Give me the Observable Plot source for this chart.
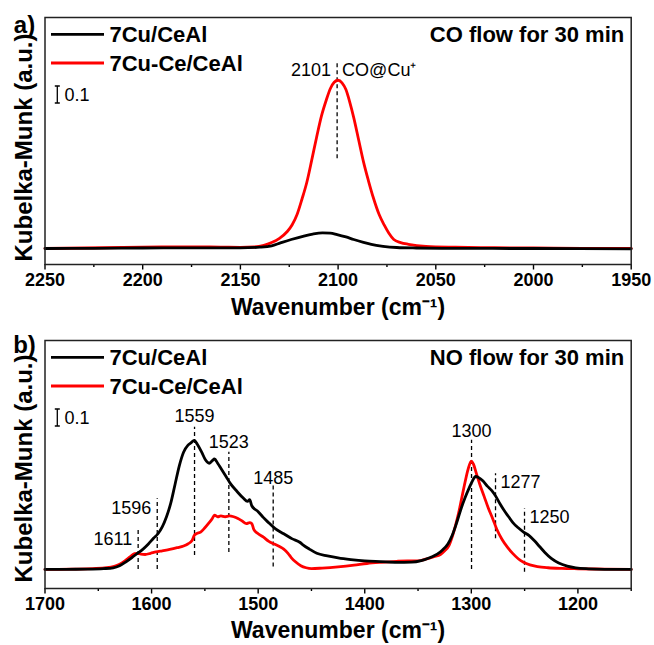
<!DOCTYPE html>
<html><head><meta charset="utf-8">
<script src="https://cdn.jsdelivr.net/npm/d3@7"></script>
<script src="https://cdn.jsdelivr.net/npm/@observablehq/plot@0.6"></script>
<style>body{margin:0;background:#fff} #chart svg{display:block}</style>
</head><body><div id="chart"></div>
<script>
const FONT = "'Liberation Sans', Arial, Helvetica, sans-serif";
const seriesNames = ["7Cu/CeAl", "7Cu-Ce/CeAl"];
const seriesColors = ["#000000", "#ff0000"];

// ---- Panel a: CO flow ----
const aHeader = "CO flow for 30 min";
const aMajorTicks = [2250, 2200, 2150, 2100, 2050, 2000, 1950];
const aMinorTicks = [2225, 2175, 2125, 2075, 2025, 1975];
const aBlackW = [2250,2225,2200,2175,2150,2140,2134,2129.5,2124,2118,2113,2108,2104,2100.5,2096,2092,2087,2083,2077,2070,2060,2040,2000,1950];
const aBlackV = [0,0.001,0.003,0.004,0.004,0.008,0.016,0.033,0.053,0.072,0.085,0.092,0.091,0.082,0.068,0.053,0.036,0.024,0.013,0.006,0.003,0.001,0,-0.002];
const aRedW = [2250,2230,2210,2190,2175,2160,2150,2143,2138,2134,2130,2126,2123.5,2121,2118.5,2116,2113.5,2111,2108.5,2106,2104,2102,2100,2098,2096,2094,2092,2089.5,2087,2084.5,2082,2079,2076.5,2074,2071.5,2068,2064,2055,2040,2020,2000,1975,1950];
const aRedV = [0,0.003,0.006,0.009,0.01,0.008,0.007,0.009,0.018,0.035,0.06,0.1,0.14,0.2,0.29,0.39,0.52,0.655,0.78,0.875,0.94,0.978,0.99,0.975,0.935,0.86,0.77,0.64,0.51,0.4,0.3,0.2,0.14,0.09,0.053,0.035,0.025,0.013,0.008,0.005,0.003,0.001,0];
const aRulePos = [2100.5];
const aRuleY1 = [0.528];
const aRuleY2 = [1.096];
const aLabelText = ["2101", "CO@Cu\u207A"];
const aLabelPos = [2100.5, 2100.5];
const aLabelY = [1.047, 1.047];
const aLabelSide = ["left", "right"];

// ---- Panel b: NO flow ----
const bHeader = "NO flow for 30 min";
const bMajorTicks = [1700, 1600, 1500, 1400, 1300, 1200];
const bMinorTicks = [1650, 1550, 1450, 1350, 1250, 1150];
const bBlackW = [1700,1680,1660,1645,1636,1630,1624,1618,1613,1608,1603,1598,1594,1590,1586,1582,1578,1574,1570,1566,1563,1560,1557,1553,1549.5,1546,1543,1541,1538,1535,1530,1526,1520,1514,1510,1508,1506,1500,1495,1491,1484,1476,1468,1461,1458,1452,1445,1435,1425,1413,1400,1385,1370,1356,1347,1338,1332,1327,1322,1318,1314,1310,1306,1302,1299,1296,1293,1289,1285,1281,1277,1273,1269,1265,1261,1256,1251,1246,1241,1236,1231,1225,1218,1210,1202,1190,1175,1150];
const bBlackV = [0,0.001,0.002,0.005,0.01,0.022,0.045,0.072,0.096,0.12,0.15,0.185,0.21,0.25,0.31,0.39,0.5,0.61,0.69,0.73,0.745,0.76,0.735,0.69,0.645,0.625,0.64,0.65,0.625,0.595,0.545,0.505,0.46,0.42,0.4,0.41,0.375,0.34,0.305,0.28,0.24,0.21,0.18,0.16,0.145,0.12,0.095,0.08,0.068,0.058,0.05,0.046,0.042,0.043,0.052,0.072,0.09,0.115,0.15,0.2,0.27,0.35,0.42,0.48,0.52,0.547,0.54,0.52,0.49,0.465,0.43,0.385,0.345,0.31,0.275,0.245,0.22,0.2,0.17,0.135,0.1,0.065,0.038,0.02,0.01,0.004,0.001,0];
const bRedW = [1700,1675,1655,1642,1635,1630,1625,1620,1616,1613,1610,1606,1601,1596,1590,1583,1576,1570,1566,1562,1560,1558,1554,1550,1546,1543,1541,1538,1535,1531,1527,1523,1519,1515,1511,1508,1506,1504,1500,1495,1490,1485,1480,1476,1472,1469,1465,1460,1455,1450,1440,1425,1410,1398,1385,1370,1360,1350,1342,1335,1329,1325,1321,1318,1315,1312,1309,1306,1303,1300,1298,1295.5,1292,1288,1284,1280,1276,1271,1266,1261,1256,1251,1245,1238,1228,1215,1200,1175,1150];
const bRedV = [0,0.002,0.005,0.01,0.018,0.03,0.05,0.075,0.093,0.095,0.09,0.088,0.095,0.103,0.11,0.118,0.128,0.138,0.15,0.17,0.2,0.21,0.22,0.245,0.275,0.3,0.32,0.31,0.315,0.31,0.315,0.31,0.3,0.285,0.27,0.275,0.27,0.235,0.21,0.19,0.165,0.15,0.135,0.12,0.095,0.07,0.045,0.022,0.01,0.005,0.008,0.015,0.025,0.035,0.042,0.048,0.05,0.05,0.062,0.075,0.088,0.11,0.14,0.19,0.255,0.33,0.42,0.51,0.59,0.637,0.62,0.57,0.5,0.43,0.36,0.3,0.235,0.175,0.13,0.093,0.063,0.042,0.027,0.017,0.01,0.006,0.004,0.002,0];
const bRulePos = [1612.6, 1594.7, 1559.7, 1527.5, 1485.9, 1299.8, 1277.3, 1250.1];
const bRuleY1 = [0, 0, 0.082, 0.10, 0.014, 0, 0.18, -0.016];
const bRuleY2 = [0.24, 0.416, 0.837, 0.69, 0.494, 0.76, 0.563, 0.357];
const bLabelText = ["1611", "1596", "1559", "1523", "1485", "1300", "1277", "1250"];
const bLabelPos = bRulePos;
const bLabelY = [0.175, 0.36, 0.90, 0.75, 0.534, 0.812, 0.515, 0.307];
const bLabelSide = ["left", "left", "top", "top", "top", "top", "right", "right"];

const zipRows = (W, V) => W.map((w, i) => ({w, v: V[i]}));

function legendMark(index, scales, values, dimensions) {
  const g = d3.create("svg:g").attr("text-anchor", "start");
  const x0 = dimensions.marginLeft, y0 = dimensions.marginTop;
  seriesNames.forEach((name, i) => {
    const y = y0 + 17.3 + i * 28.7;
    g.append("line").attr("x1", x0 + 6.5).attr("x2", x0 + 59.5).attr("y1", y).attr("y2", y)
      .attr("stroke", seriesColors[i]).attr("stroke-width", 2.8);
    g.append("text").attr("x", x0 + 65).attr("y", y).attr("dy", "0.36em")
      .attr("text-anchor", "start")
      .attr("font-size", 22).attr("font-weight", "bold").attr("fill", "#000")
      .attr("font-family", FONT).text(name);
  });
  const len = scales.y(0) - scales.y(0.1);
  const bx = x0 + 12.8, bt = y0 + 69, bb = bt + len;
  g.append("path").attr("d", `M${bx},${bt}V${bb}M${bx-2.5},${bt}H${bx+2.5}M${bx-2.5},${bb}H${bx+2.5}`)
    .attr("stroke", "#000").attr("stroke-width", 1.3).attr("fill", "none");
  g.append("text").attr("x", x0 + 20).attr("y", (bt + bb) / 2).attr("dy", "0.36em")
    .attr("text-anchor", "start")
    .attr("font-size", 18).attr("font-weight", "normal").attr("fill", "#000")
    .attr("font-family", FONT).text("0.1");
  return g.node();
}

function panel(o) {
  const rules = o.rulePos.map((p, i) => ({pos: p, y1: o.ruleY1[i], y2: o.ruleY2[i]}));
  const labels = o.labelText.map((t, i) => ({text: t, pos: o.labelPos[i], y: o.labelY[i], side: o.labelSide[i]}));
  const lab = (side, extra) => Plot.text(labels.filter(d => d.side === side), {
    x: "pos", y: "y", text: "text", fontSize: 18, fontWeight: "normal", fill: "#000",
    lineAnchor: "middle", ...extra
  });
  return Plot.plot({
    width: 654, height: o.height,
    marginLeft: 44.5, marginRight: 23.3, marginTop: o.mt, marginBottom: o.mb,
    x: {domain: o.xDomain, label: null},
    y: {domain: o.yDomain, axis: null},
    style: {fontFamily: FONT, fontSize: "18px", fontWeight: "bold", color: "#000", background: "#fff", overflow: "visible"},
    marks: [
      Plot.axisX({ticks: o.minors, tickSize: 3, tickFormat: () => "", label: null, strokeWidth: 1.4}),
      Plot.axisX({ticks: o.majors, tickSize: 5.5, tickPadding: 3, fontSize: 18, fontWeight: "bold", label: null, strokeWidth: 1.4, tickFormat: d => String(d)}),
      Plot.ruleX(rules, {x: "pos", y1: "y1", y2: "y2", stroke: "#000", strokeWidth: 1.3, strokeDasharray: "4,3"}),
      Plot.line(zipRows(o.redW, o.redV), {x: "w", y: "v", stroke: seriesColors[1], strokeWidth: 2.8, curve: "monotone-x"}),
      Plot.line(zipRows(o.blackW, o.blackV), {x: "w", y: "v", stroke: seriesColors[0], strokeWidth: 2.8, curve: "monotone-x"}),
      lab("top", {textAnchor: "middle"}),
      lab("left", {textAnchor: "end", dx: -6}),
      lab("right", {textAnchor: "start", dx: 5}),
      Plot.frame({stroke: "#222", strokeWidth: 1.5}),
      legendMark,
      Plot.text([o.header], {text: d => d, frameAnchor: "top-right", dx: -7, dy: o.headerDy, textAnchor: "end", lineAnchor: "middle", fontSize: 22, fontWeight: "bold", fill: "#000"}),
      Plot.text([o.letter], {text: d => d, frameAnchor: "top-left", dx: -20.5, dy: o.letterDy, textAnchor: "middle", lineAnchor: "middle", fontSize: 24, fontWeight: "bold", fill: "#000"}),
      Plot.text(["Kubelka-Munk (a.u.)"], {text: d => d, frameAnchor: "left", dx: -20.5, dy: o.yTitleDy, rotate: -90, textAnchor: "middle", lineAnchor: "middle", fontSize: 24, fontWeight: "bold", fill: "#000"}),
      Plot.text(["Wavenumber (cm\u207B\u00B9)"], {text: d => d, frameAnchor: "bottom", dy: o.xTitleDy, textAnchor: "middle", lineAnchor: "middle", fontSize: 23, fontWeight: "bold", fill: "#000"})
    ]
  });
}

const chart = document.getElementById("chart");
chart.append(panel({
  height: 320, mt: 17, mb: 56, xDomain: [2250, 1950], yDomain: [-0.094, 1.359],
  majors: aMajorTicks, minors: aMinorTicks,
  blackW: aBlackW, blackV: aBlackV, redW: aRedW, redV: aRedV,
  rulePos: aRulePos, ruleY1: aRuleY1, ruleY2: aRuleY2,
  labelText: aLabelText, labelPos: aLabelPos, labelY: aLabelY, labelSide: aLabelSide,
  header: aHeader, headerDy: 17.5, letter: "a)", letterDy: 8, yTitleDy: 6.5, xTitleDy: 43
}));
chart.append(panel({
  height: 325, mt: 20, mb: 57, xDomain: [1700, 1150], yDomain: [-0.112, 1.347],
  majors: bMajorTicks, minors: bMinorTicks,
  blackW: bBlackW, blackV: bBlackV, redW: bRedW, redV: bRedV,
  rulePos: bRulePos, ruleY1: bRuleY1, ruleY2: bRuleY2,
  labelText: bLabelText, labelPos: bLabelPos, labelY: bLabelY, labelSide: bLabelSide,
  header: bHeader, headerDy: 17.7, letter: "b)", letterDy: 5, yTitleDy: 4, xTitleDy: 42
}));
</script>
</body></html>
